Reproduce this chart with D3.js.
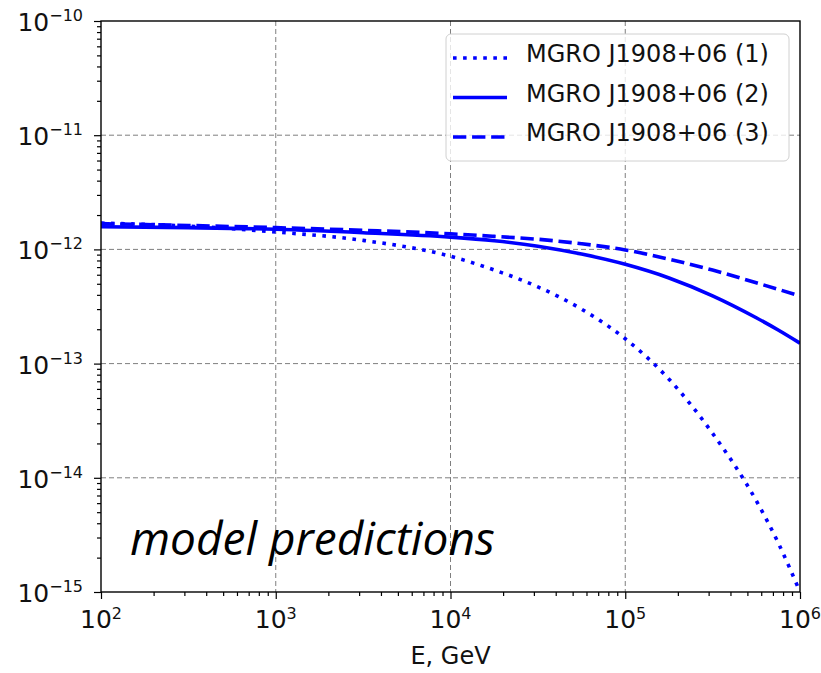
<!DOCTYPE html>
<html>
<head>
<meta charset="utf-8">
<script src="https://cdn.jsdelivr.net/npm/d3@7"></script>
<style>
    body { margin: 0; background: #fff; }
    svg { display: block; font-family: "DejaVu Sans", sans-serif; }
</style>
</head>
<body>
<div id="chart"></div>
<script>
// energies in GeV, fluxes for each model
const energies = [1e2, 3.16e2, 1e3, 3.16e3, 1e4, 1.78e4, 3.16e4, 5.62e4, 1e5, 1.78e5, 3.16e5, 5.62e5, 7.5e5, 1e6];
const model1 = [1.70e-12, 1.60e-12, 1.42e-12, 1.20e-12, 8.7e-13, 6.6e-13, 4.7e-13, 3.0e-13, 1.65e-13, 7.3e-14, 2.45e-14, 6.3e-15, 2.7e-15, 1.0e-15];
const model2 = [1.58e-12, 1.55e-12, 1.50e-12, 1.40e-12, 1.28e-12, 1.19e-12, 1.067e-12, 9.1e-13, 7.4e-13, 5.62e-13, 3.92e-13, 2.52e-13, 1.97e-13, 1.51e-13];
const model3 = [1.68e-12, 1.62e-12, 1.55e-12, 1.47e-12, 1.37e-12, 1.30e-12, 1.227e-12, 1.12e-12, 9.9e-13, 8.2e-13, 6.6e-13, 5.1e-13, 4.47e-13, 3.9e-13];
const seriesNames = ["MGRO J1908+06 (1)", "MGRO J1908+06 (2)", "MGRO J1908+06 (3)"];

const xTickExps = [2, 3, 4, 5, 6];
const yTickExps = [-15, -14, -13, -12, -11, -10];

const WIDTH = 821, HEIGHT = 673;
const PLOT = { LEFT: 101, RIGHT: 800, TOP: 21, BOTTOM: 592 };
const BLUE = "#0000ff";
const LW = 3.6;
const dashes = [`${LW},${LW * 1.8}`, null, `${LW * 3.7},${LW * 1.6}`];

const svg = d3.select("#chart").append("svg")
    .attr("width", WIDTH)
    .attr("height", HEIGHT);

const x = d3.scaleLog().domain([1e2, 1e6]).range([PLOT.LEFT, PLOT.RIGHT]);
const y = d3.scaleLog().domain([1e-15, 1e-10]).range([PLOT.BOTTOM, PLOT.TOP]);

// minor tick positions 2..9 in each decade
const xMinor = [], yMinor = [];
xTickExps.slice(0, -1).forEach(e => { for (let k = 2; k < 10; k++) xMinor.push(k * Math.pow(10, e)); });
yTickExps.slice(0, -1).forEach(e => { for (let k = 2; k < 10; k++) yMinor.push(k * Math.pow(10, e)); });

// grid
const grid = svg.append("g")
    .attr("stroke", "#7f7f7f")
    .attr("stroke-width", 1)
    .attr("stroke-dasharray", "5,3");
grid.selectAll("line.vx")
    .data(xTickExps.slice(1, -1))
    .join("line")
    .attr("x1", d => x(Math.pow(10, d))).attr("x2", d => x(Math.pow(10, d)))
    .attr("y1", PLOT.TOP).attr("y2", PLOT.BOTTOM);
grid.selectAll("line.hy")
    .data(yTickExps.slice(1, -1))
    .join("line")
    .attr("y1", d => y(Math.pow(10, d))).attr("y2", d => y(Math.pow(10, d)))
    .attr("x1", PLOT.LEFT).attr("x2", PLOT.RIGHT);

// curves
const line = d3.line()
    .x((d, i) => x(energies[i]))
    .y(d => y(d))
    .curve(d3.curveMonotoneX);

svg.append("clipPath").attr("id", "clip")
    .append("rect")
    .attr("x", PLOT.LEFT).attr("y", PLOT.TOP)
    .attr("width", PLOT.RIGHT - PLOT.LEFT).attr("height", PLOT.BOTTOM - PLOT.TOP);

svg.append("g").attr("clip-path", "url(#clip)")
    .selectAll("path")
    .data([model1, model2, model3])
    .join("path")
    .attr("d", line)
    .attr("fill", "none")
    .attr("stroke", BLUE)
    .attr("stroke-width", LW)
    .attr("stroke-dasharray", (d, i) => dashes[i]);

// axes: ticks only, labels drawn separately
const xAxis = svg.append("g").attr("transform", `translate(0,${PLOT.BOTTOM})`)
    .call(d3.axisBottom(x).tickValues(xTickExps.map(e => Math.pow(10, e))).tickSize(7).tickFormat(""));
const xAxisMinor = svg.append("g").attr("transform", `translate(0,${PLOT.BOTTOM})`)
    .call(d3.axisBottom(x).tickValues(xMinor).tickSize(4).tickFormat(""));
const yAxis = svg.append("g").attr("transform", `translate(${PLOT.LEFT},0)`)
    .call(d3.axisLeft(y).tickValues(yTickExps.map(e => Math.pow(10, e))).tickSize(7).tickFormat(""));
const yAxisMinor = svg.append("g").attr("transform", `translate(${PLOT.LEFT},0)`)
    .call(d3.axisLeft(y).tickValues(yMinor).tickSize(4).tickFormat(""));

[xAxis, xAxisMinor, yAxis, yAxisMinor].forEach(g => {
    g.select(".domain").remove();
    g.selectAll(".tick line").attr("stroke", "#000").attr("stroke-width", 1.2);
});

// spines
svg.append("rect")
    .attr("x", PLOT.LEFT).attr("y", PLOT.TOP)
    .attr("width", PLOT.RIGHT - PLOT.LEFT).attr("height", PLOT.BOTTOM - PLOT.TOP)
    .attr("fill", "none")
    .attr("stroke", "#000")
    .attr("stroke-width", 1.4);

// tick labels
const fmtExp = e => (e < 0 ? "\u2212" : "") + Math.abs(e);

const xLab = svg.append("g").selectAll("text")
    .data(xTickExps)
    .join("text")
    .attr("x", d => x(Math.pow(10, d)))
    .attr("y", PLOT.BOTTOM + 36)
    .attr("text-anchor", "middle")
    .attr("font-size", 25)
    .attr("fill", "#111");
xLab.append("tspan").text("10");
xLab.append("tspan").attr("dy", -9).attr("font-size", 16).text(d => fmtExp(d));

const yLab = svg.append("g").selectAll("text")
    .data(yTickExps)
    .join("text")
    .attr("x", 83)
    .attr("y", d => y(Math.pow(10, d)) + 10)
    .attr("text-anchor", "end")
    .attr("font-size", 25)
    .attr("fill", "#111");
yLab.append("tspan").text("10");
yLab.append("tspan").attr("dy", -10).attr("font-size", 16).text(d => fmtExp(d));

// x axis title
svg.append("text")
    .attr("x", (PLOT.LEFT + PLOT.RIGHT) / 2)
    .attr("y", 664)
    .attr("text-anchor", "middle")
    .attr("font-size", 24)
    .attr("fill", "#111")
    .text("E, GeV");

// legend
const legend = svg.append("g");
legend.append("rect")
    .attr("x", 446).attr("y", 34)
    .attr("width", 343).attr("height", 127)
    .attr("rx", 5)
    .attr("fill", "#fff").attr("fill-opacity", 0.8)
    .attr("stroke", "#d0d0d0").attr("stroke-width", 1);

const item = legend.selectAll("g.item")
    .data(seriesNames)
    .join("g")
    .attr("class", "item")
    .attr("transform", (d, i) => `translate(0,${58 + i * 39.5})`);
item.append("line")
    .attr("x1", 453).attr("x2", 507)
    .attr("stroke", BLUE)
    .attr("stroke-width", LW)
    .attr("stroke-dasharray", (d, i) => dashes[i]);
item.append("text")
    .attr("x", 526).attr("y", 4)
    .attr("font-size", 24)
    .attr("fill", "#111")
    .text(d => d);

// annotation
svg.append("text")
    .attr("x", 130).attr("y", 555)
    .attr("font-family", "'Open Sans', 'Noto Sans', sans-serif")
    .attr("font-style", "italic")
    .attr("font-size", 46)
    .attr("fill", "#000")
    .text("model predictions");
</script>
</body>
</html>
